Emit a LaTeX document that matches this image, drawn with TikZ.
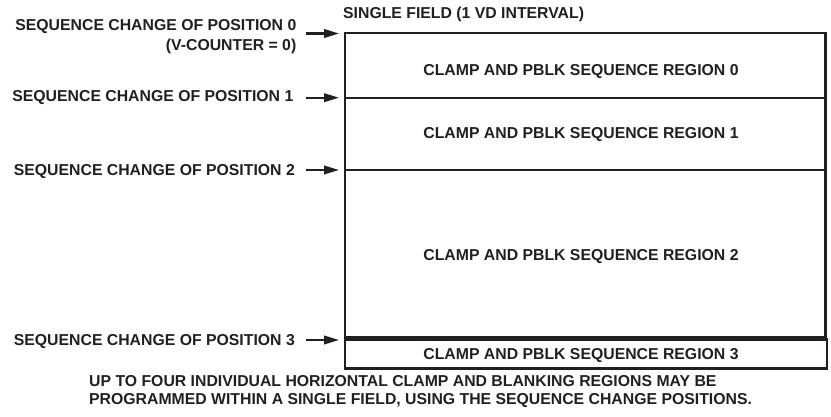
\documentclass[tikz,border=0pt]{standalone}
\usepackage{fontspec}
\setmainfont{Liberation Sans}
\usetikzlibrary{arrows.meta}
\definecolor{ink}{RGB}{35,31,32}
\begin{document}
\begin{tikzpicture}[x=1pt,y=-1pt,
  lbl/.style={inner sep=0pt, text=ink, font=\fontsize{15.8}{18}\selectfont\bfseries},
  boxline/.style={line width=2.8pt, draw=ink},
  ptr/.style={line width=2.2pt, draw=ink, -{Triangle[length=15pt,width=8.5pt]}}]
\useasboundingbox (0,0) rectangle (831,417);
% boxes
\draw[boxline] (345,33) rectangle (825.5,337);
\draw[boxline] (345,98) -- (825.5,98);
\draw[boxline] (345,170) -- (825.5,170);
\draw[boxline] (345,339.5) rectangle (827,368.5);
% title
\node[lbl, anchor=base west] (title) at (343,19) {SINGLE FIELD (1 VD INTERVAL)};
% region labels
\node[lbl, anchor=base] (r0) at (581,75.5) {CLAMP AND PBLK SEQUENCE REGION 0};
\node[lbl, anchor=base] (r1) at (581,139) {CLAMP AND PBLK SEQUENCE REGION 1};
\node[lbl, anchor=base] (r2) at (581,261) {CLAMP AND PBLK SEQUENCE REGION 2};
\node[lbl, anchor=base] (r3) at (581,359) {CLAMP AND PBLK SEQUENCE REGION 3};
% position labels
\node[lbl, anchor=base east] (p0) at (296.5,30.5) {SEQUENCE CHANGE OF POSITION 0};
\node[lbl, anchor=base east] (p0b) at (296.5,51) {(V-COUNTER = 0)};
\node[lbl, anchor=base east] (p1) at (293.5,102) {SEQUENCE CHANGE OF POSITION 1};
\node[lbl, anchor=base east] (p2) at (295,176) {SEQUENCE CHANGE OF POSITION 2};
\node[lbl, anchor=base east] (p3) at (295,345.5) {SEQUENCE CHANGE OF POSITION 3};
% arrow end points
\coordinate (a0) at (306,33.5);
\coordinate (b0) at (339,33.5);
\coordinate (a1) at (306,97.7);
\coordinate (b1) at (339,97.7);
\coordinate (a2) at (306,170);
\coordinate (b2) at (339,170);
\coordinate (a3) at (306,340);
\coordinate (b3) at (339,340);
\draw[ptr] (a0) -- (b0);
\draw[ptr] (a1) -- (b1);
\draw[ptr] (a2) -- (b2);
\draw[ptr] (a3) -- (b3);
% note
\node[lbl, anchor=base west] (n1) at (89,386) {UP TO FOUR INDIVIDUAL HORIZONTAL CLAMP AND BLANKING REGIONS MAY BE};
\node[lbl, anchor=base west] (n2) at (89,404) {PROGRAMMED WITHIN A SINGLE FIELD, USING THE SEQUENCE CHANGE POSITIONS.};
\end{tikzpicture}
\end{document}
